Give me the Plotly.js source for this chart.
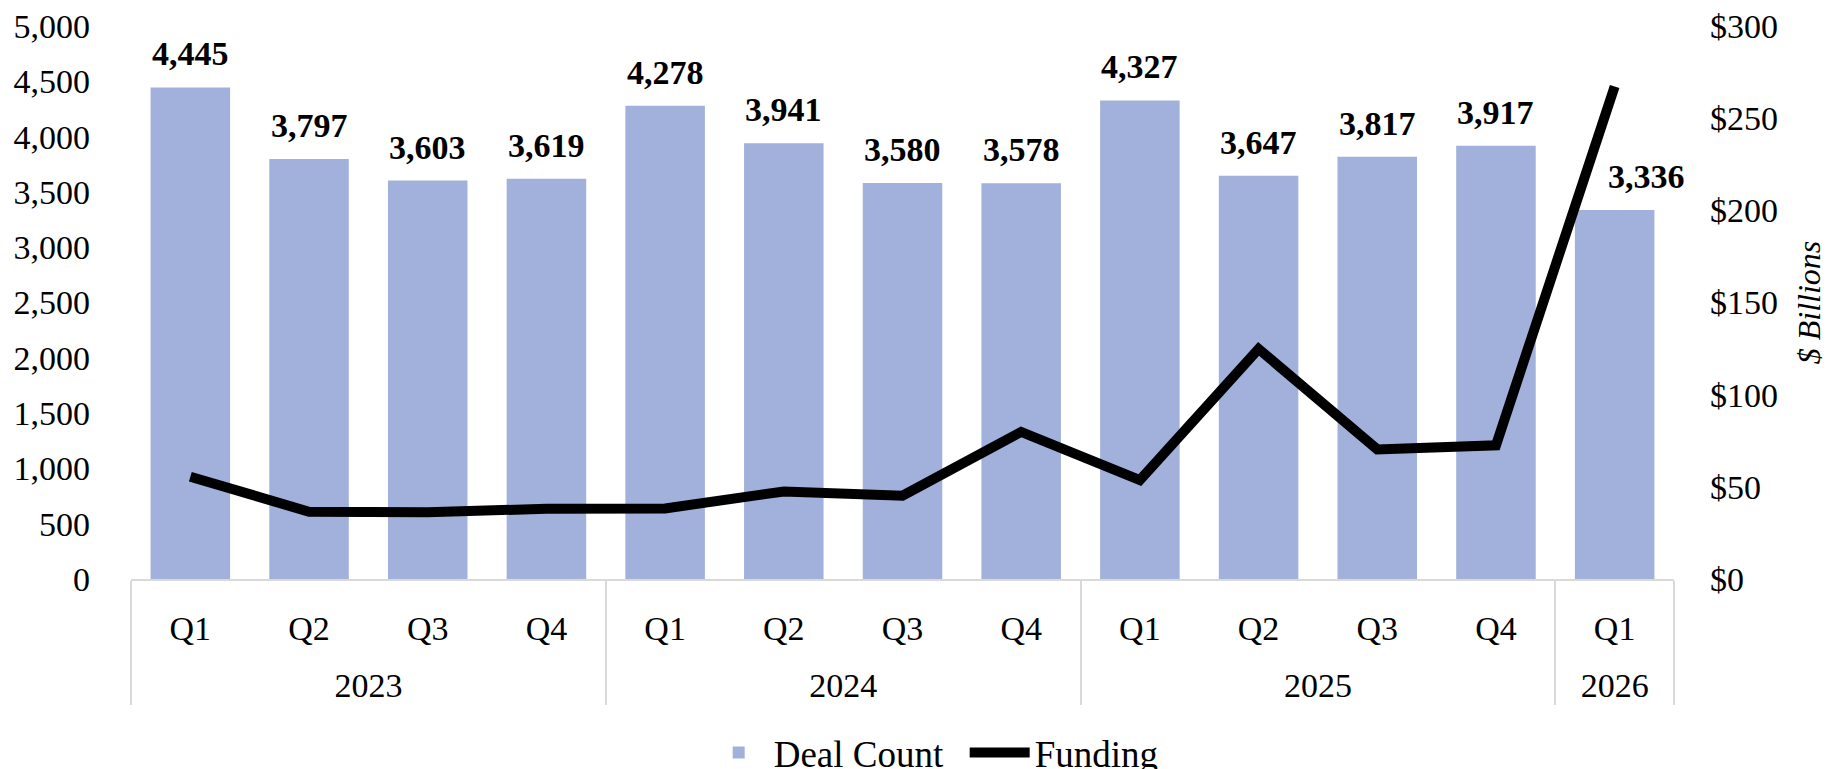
<!DOCTYPE html>
<html>
<head>
<meta charset="utf-8">
<script src="https://cdn.plot.ly/plotly-3.0.1.min.js"></script>
<style>
  html, body { margin: 0; padding: 0; background: #fff; }
  #chart { width: 1841px; height: 769px; }
</style>
</head>
<body>
<div id="chart"></div>
<script>
const years = ['2023','2023','2023','2023','2024','2024','2024','2024','2025','2025','2025','2025','2026'];
const quarters = ['Q1','Q2','Q3','Q4','Q1','Q2','Q3','Q4','Q1','Q2','Q3','Q4','Q1'];
const dealCount = [4445, 3797, 3603, 3619, 4278, 3941, 3580, 3578, 4327, 3647, 3817, 3917, 3336];
const funding = [55.5, 36.5, 36.2, 38.1, 38.3, 47.5, 45.2, 79.8, 53.7, 124.8, 70.3, 72.5, 267.2];

const FONT = 'Liberation Serif, Times New Roman, serif';

// invisible tall spacer around the quarter labels so the year row sits lower, as in the reference
const pad = '<span style="font-size:66px">\u00A0</span>';
const quarterLabels = quarters.map(q => pad + q + pad);

const barTrace = {
  type: 'bar',
  name: 'Deal Count',
  x: [years, quarterLabels],
  y: dealCount,
  marker: { color: '#A2B1DB' },
  yaxis: 'y',
  hoverinfo: 'skip'
};
const lineTrace = {
  type: 'scatter',
  mode: 'lines',
  name: 'Funding',
  x: [years, quarterLabels],
  y: funding,
  line: { color: '#000000', width: 10 },
  yaxis: 'y2',
  hoverinfo: 'skip'
};

const annotations = dealCount.map((v, i) => ({
  x: i,
  y: v,
  xref: 'x',
  yref: 'y',
  text: '<b>' + v.toLocaleString('en-US') + '</b>',
  showarrow: false,
  yanchor: 'bottom',
  yshift: 13,
  xshift: i === dealCount.length - 1 ? 32 : 0,
  font: { family: FONT, size: 34, color: '#000' }
}));

const layout = {
  width: 1841,
  height: 769,
  margin: { l: 131, r: 167, t: 26, b: 190, autoexpand: false },
  paper_bgcolor: '#fff',
  plot_bgcolor: '#fff',
  font: { family: FONT, size: 34, color: '#000' },
  bargap: 0.33,
  showlegend: true,
  legend: {
    orientation: 'h',
    xref: 'container',
    yref: 'container',
    x: 0.524,
    xanchor: 'center',
    y: 0.021,
    yanchor: 'middle',
    font: { family: FONT, size: 37, color: '#000' },
    itemwidth: 60,
    entrywidth: 186,
    traceorder: 'normal'
  },
  xaxis: {
    type: 'multicategory',
    autorange: false,
    range: [-0.5, dealCount.length - 0.5],
    automargin: false,
    showline: true,
    linecolor: '#D9D9D9',
    linewidth: 2,
    showdividers: true,
    dividercolor: '#D9D9D9',
    dividerwidth: 2,
    ticks: '',
    ticklabelstandoff: 18,
    showgrid: false,
    tickfont: { family: FONT, size: 34, color: '#000' }
  },
  yaxis: {
    automargin: false,
    range: [0, 5000],
    dtick: 500,
    tickformat: ',d',
    showgrid: false,
    zeroline: false,
    showline: false,
    ticks: '',
    ticklabelstandoff: 40,
    tickfont: { family: FONT, size: 34, color: '#000' }
  },
  yaxis2: {
    automargin: false,
    overlaying: 'y',
    side: 'right',
    range: [0, 300],
    dtick: 50,
    tickprefix: '$',
    showgrid: false,
    zeroline: false,
    showline: false,
    ticks: '',
    ticklabelstandoff: 35,
    tickfont: { family: FONT, size: 34, color: '#000' },
    title: { text: '<i>$ Billions</i>', standoff: 20, font: { family: FONT, size: 32, color: '#000' } }
  },
  annotations: annotations
};

Plotly.newPlot('chart', [barTrace, lineTrace], layout, { displayModeBar: false, staticPlot: true });
</script>
</body>
</html>
